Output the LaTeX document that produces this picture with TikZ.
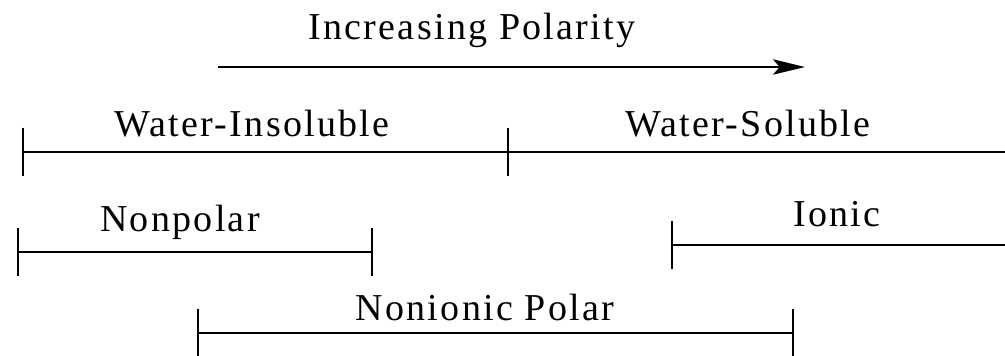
\documentclass[tikz,border=0pt]{standalone}
\usepackage{fontspec}
\setmainfont{Liberation Serif}[LetterSpace=6]
\usetikzlibrary{arrows.meta}

\begin{document}
\begin{tikzpicture}[x=0.75pt, y=-0.75pt, line cap=butt,
  font=\fontsize{28.5}{30}\selectfont,
  barra/.style={line width=1.6pt},
  tacca/.style={line width=2.2pt}]

\useasboundingbox (0,0) rectangle (1005,356);

% Freccia della polarita
\coordinate (A0) at (218,67);
\coordinate (A1) at (805,67);
\draw[barra, -{Stealth[length=24pt, width=11.5pt, inset=5pt]}] (A0) -- (A1);
\node[anchor=base] (pol) at (472,40) {Increasing Polarity};

% Solubilita in acqua
\coordinate (W0) at (23,152);
\coordinate (W1) at (508,152);
\coordinate (W2) at (1005,152);
\draw[barra] (W0) -- (W2);
\node[anchor=base] (insol) at (252,137) {Water-Insoluble};
\node[anchor=base] (sol) at (748,137) {Water-Soluble};

% Apolare
\coordinate (N0) at (18,252);
\coordinate (N1) at (372,252);
\draw[barra] (N0) -- (N1);
\node[anchor=base] (apol) at (180,231) {Nonpolar};

% Ionico
\coordinate (I0) at (672,245);
\coordinate (I1) at (1005,245);
\draw[barra] (I0) -- (I1);
\node[anchor=base] (ion) at (837,226) {Ionic};

% Polare non ionico
\coordinate (P0) at (198,333);
\coordinate (P1) at (793,333);
\draw[barra] (P0) -- (P1);
\node[anchor=base] (nonion) at (485,320) {Nonionic Polar};

% Tacche agli estremi
\foreach \c in {W0,W1,N0,N1,I0,P0,P1}
  \draw[tacca] (\c) ++(0,-24) -- ++(0,48);

\end{tikzpicture}
\end{document}
